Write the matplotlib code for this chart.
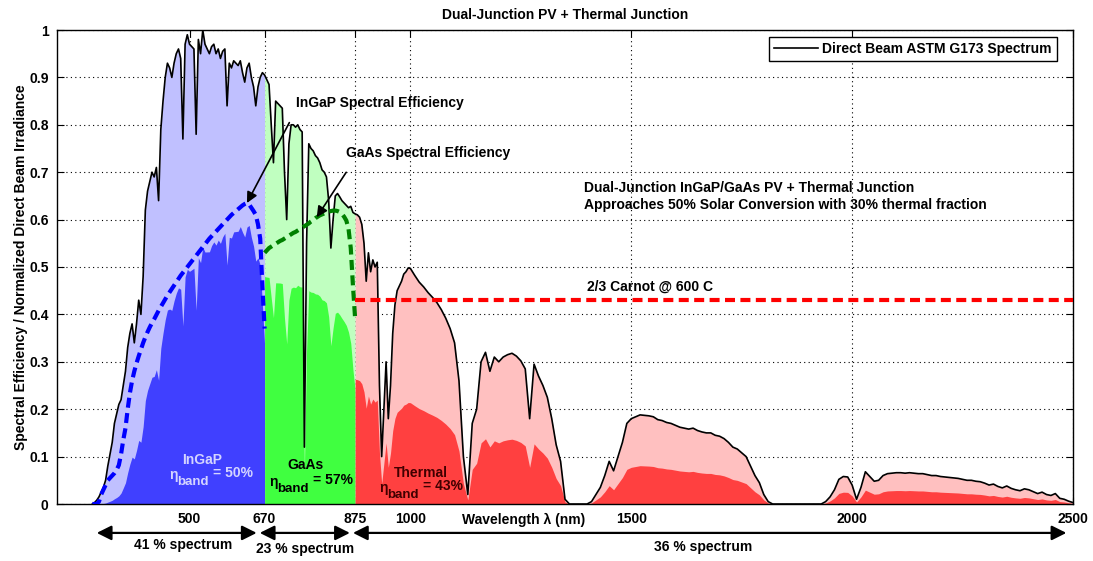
import numpy as np
import matplotlib
matplotlib.use("Agg")
import matplotlib.pyplot as plt
from matplotlib.transforms import offset_copy

plt.rcParams['font.family'] = ['Liberation Sans', 'DejaVu Sans']
plt.rcParams['font.weight'] = 'bold'

# Wavelength grid (nm): 5 nm steps to 1000, then 10 nm steps
wl_vis = np.arange(280, 1001, 5)
wl_ir = np.arange(1010, 2501, 10)

# Normalized direct beam irradiance, 280-1000 nm
spec_vis = [
    0.0, 0.003, 0.008, 0.015, 0.025, 0.035, 0.05, 0.08, 0.105, 0.13,
    0.17, 0.19, 0.21, 0.22, 0.25, 0.28, 0.33, 0.36, 0.38, 0.34,
    0.38, 0.43, 0.40, 0.48, 0.62, 0.66, 0.68, 0.70, 0.69, 0.71,
    0.64, 0.79, 0.85, 0.90, 0.93, 0.92, 0.90, 0.93, 0.95, 0.96,
    0.94, 0.77, 0.97, 0.99, 0.97, 0.965, 0.96, 0.78, 0.98, 0.95,
    1.0, 0.97, 0.96, 0.95, 0.965, 0.97, 0.95, 0.96, 0.94, 0.955,
    0.96, 0.84, 0.93, 0.92, 0.935, 0.93, 0.925, 0.935, 0.91, 0.89,
    0.92, 0.93, 0.90, 0.88, 0.84, 0.88, 0.90, 0.91, 0.905, 0.895,
    0.885, 0.80, 0.72, 0.85, 0.845, 0.84, 0.835, 0.70, 0.60, 0.76,
    0.80, 0.80, 0.795, 0.80, 0.79, 0.785, 0.12, 0.55, 0.76, 0.75,
    0.745, 0.735, 0.73, 0.72, 0.705, 0.70, 0.69, 0.64, 0.54, 0.60,
    0.65, 0.655, 0.648, 0.64, 0.635, 0.63, 0.625, 0.628, 0.615, 0.612,
    0.61, 0.605, 0.59, 0.55, 0.47, 0.53, 0.49, 0.515, 0.50, 0.51,
    0.25, 0.10, 0.20, 0.30, 0.18, 0.25, 0.36, 0.42, 0.45, 0.46,
    0.47, 0.485, 0.49, 0.498, 0.497,
]

# Normalized direct beam irradiance, 1010-2500 nm
spec_ir = [
    0.482, 0.468, 0.458, 0.446, 0.436, 0.425, 0.41, 0.392, 0.37, 0.34,
    0.26, 0.10, 0.02, 0.17, 0.20, 0.30, 0.32, 0.28, 0.31, 0.30,
    0.31, 0.315, 0.318, 0.312, 0.302, 0.285, 0.18, 0.295, 0.27, 0.25,
    0.225, 0.18, 0.125, 0.09, 0.01, 0.0, 0.0, 0.0, 0.0, 0.0,
    0.005, 0.02, 0.035, 0.06, 0.09, 0.07, 0.10, 0.13, 0.17, 0.18,
    0.184, 0.188, 0.187, 0.186, 0.184, 0.178, 0.176, 0.172, 0.17, 0.166,
    0.162, 0.16, 0.158, 0.16, 0.155, 0.152, 0.15, 0.15, 0.145, 0.143,
    0.138, 0.13, 0.12, 0.116, 0.108, 0.10, 0.08, 0.06, 0.045, 0.02,
    0.005, 0.0, 0.0, 0.0, 0.0, 0.0, 0.0, 0.0, 0.0, 0.0,
    0.0, 0.0, 0.0, 0.005, 0.015, 0.03, 0.052, 0.058, 0.057, 0.04,
    0.01, 0.035, 0.068, 0.058, 0.048, 0.05, 0.06, 0.064, 0.065, 0.066,
    0.066, 0.065, 0.066, 0.065, 0.064, 0.064, 0.062, 0.06, 0.06, 0.058,
    0.057, 0.056, 0.055, 0.054, 0.052, 0.05, 0.05, 0.048, 0.047, 0.044,
    0.04, 0.042, 0.037, 0.034, 0.038, 0.033, 0.03, 0.028, 0.032, 0.03,
    0.026, 0.022, 0.025, 0.02, 0.018, 0.022, 0.012, 0.01, 0.006, 0.003,
]

# InGaP spectral efficiency, 280-670 nm (same 5 nm grid)
eff_ingap = [
    0.0, 0.0, 0.0, 0.005, 0.02, 0.03, 0.04, 0.05, 0.055, 0.06,
    0.065, 0.072, 0.082, 0.105, 0.135, 0.16, 0.2, 0.234, 0.26, 0.28,
    0.297, 0.312, 0.326, 0.34, 0.352, 0.363, 0.373, 0.382, 0.39, 0.399,
    0.408, 0.416, 0.424, 0.432, 0.44, 0.447, 0.454, 0.461, 0.468, 0.475,
    0.482, 0.488, 0.494, 0.5, 0.506, 0.512, 0.518, 0.524, 0.53, 0.536,
    0.542, 0.548, 0.554, 0.56, 0.565, 0.57, 0.575, 0.58, 0.585, 0.59,
    0.595, 0.6, 0.605, 0.61, 0.614, 0.618, 0.622, 0.626, 0.63, 0.633,
    0.635, 0.632, 0.625, 0.618, 0.61, 0.59, 0.56, 0.46, 0.37,
]

# GaAs spectral efficiency, 670-875 nm (same 5 nm grid)
eff_gaas = [
    0.53, 0.535, 0.54, 0.543, 0.546, 0.549, 0.552, 0.555, 0.557, 0.56,
    0.563, 0.566, 0.569, 0.572, 0.574, 0.577, 0.58, 0.583, 0.586, 0.589,
    0.592, 0.596, 0.599, 0.603, 0.606, 0.609, 0.611, 0.613, 0.615, 0.617,
    0.618, 0.619, 0.619, 0.618, 0.616, 0.612, 0.606, 0.598, 0.58, 0.54,
    0.46, 0.39,
]

eff_thermal = 0.43  # 2/3 Carnot @ 600 C
band_edges = [280, 670, 875, 2500]
xticks = [500, 670, 875, 1000, 1500, 2000, 2500]

wl = np.concatenate([wl_vis, wl_ir])
spec = np.array(spec_vis + spec_ir)

m1 = (wl >= 280) & (wl <= 670)
m2 = (wl >= 670) & (wl <= 875)
m3 = wl >= 875
wl1, wl2, wl3 = wl[m1], wl[m2], wl[m3]

fig = plt.figure(figsize=(10.93, 5.61), dpi=100)
ax = fig.add_axes([57 / 1093, 1 - 504 / 561, 1016 / 1093, 474 / 561])

# light fills = spectrum, dark fills = spectrum x efficiency
ax.fill_between(wl1, 0, spec[m1], color='#c0c0ff', lw=0)
ax.fill_between(wl1, 0, spec[m1] * np.array(eff_ingap), color='#4040ff', lw=0)
ax.fill_between(wl2, 0, spec[m2], color='#c0ffc0', lw=0)
ax.fill_between(wl2, 0, spec[m2] * np.array(eff_gaas), color='#40ff40', lw=0)
ax.fill_between(wl3, 0, spec[m3], color='#ffc0c0', lw=0)
ax.fill_between(wl3, 0, spec[m3] * eff_thermal, color='#ff4040', lw=0)

ax.plot(wl, spec, color='black', lw=1.2, label='Direct Beam ASTM G173 Spectrum', zorder=4)

ax.plot(wl1, eff_ingap, color='#0000ff', lw=3, dashes=(2.4, 1.3), zorder=5)
ax.plot(wl2, eff_gaas, color='#008000', lw=3, dashes=(2.4, 1.3), zorder=5)
ax.plot([band_edges[2], band_edges[3]], [eff_thermal, eff_thermal], color='#ff0000',
        lw=3, dashes=(2.4, 1.3), zorder=5)

ax.set_xlim(200, 2500)
ax.set_ylim(0, 1)
ax.set_xticks(xticks)
ax.set_xticklabels([str(t) for t in xticks])
ax.set_yticks(np.arange(0, 1.01, 0.1))
ax.set_yticklabels(['0'] + ['%.1f' % v for v in np.arange(0.1, 0.95, 0.1)] + ['1'])
ax.tick_params(direction='in', top=True, right=True, length=5, labelsize=10, pad=6)
ax.set_axisbelow(True)
ax.grid(True, linestyle=(0, (1, 3)), color='black', lw=0.8)
for s in ax.spines.values():
    s.set_linewidth(1.0)

ax.set_title('Dual-Junction PV + Thermal Junction', fontsize=10, fontweight='bold', pad=8)
ax.set_ylabel('Spectral Efficiency / Normalized Direct Beam Irradiance', fontsize=10,
              fontweight='bold', labelpad=1)
ax.text(1257, -0.034, 'Wavelength λ (nm)', fontsize=10, ha='center', va='center', clip_on=False)

leg = ax.legend(loc='upper right', bbox_to_anchor=(0.984, 0.985), fancybox=False,
                framealpha=1, edgecolor='black', fontsize=10, handlelength=3.2,
                borderpad=0.35, handletextpad=0.3, borderaxespad=0)
leg.get_frame().set_linewidth(1.0)

# annotations
ax.annotate('InGaP Spectral Efficiency', xy=(630, 0.635), xytext=(741, 0.846),
            fontsize=10, ha='left', va='center',
            arrowprops=dict(arrowstyle='-|>', color='black', lw=1.2,
                            mutation_scale=16, shrinkA=8, shrinkB=0,
                            relpos=(0, 0)), zorder=6)
ax.annotate('GaAs Spectral Efficiency', xy=(788, 0.605), xytext=(854, 0.74),
            fontsize=10, ha='left', va='center',
            arrowprops=dict(arrowstyle='-|>', color='black', lw=1.2,
                            mutation_scale=16, shrinkA=8, shrinkB=0,
                            relpos=(0.05, 0)), zorder=6)
ax.text(1392, 0.667, 'Dual-Junction InGaP/GaAs PV + Thermal Junction', fontsize=10,
        ha='left', va='center')
ax.text(1392, 0.631, 'Approaches 50% Solar Conversion with 30% thermal fraction', fontsize=10,
        ha='left', va='center')
ax.text(1400, 0.458, '2/3 Carnot @ 600 C', fontsize=10, ha='left', va='center')


def band_label(x, y, name, name_dx, name_dy, pct, color):
    # eta anchored at (x, y); "band" subscript and name placed by pixel offsets
    def tr(dx, dy):
        return offset_copy(ax.transData, fig=fig, x=dx, y=dy, units='dots')
    kw = dict(color=color, va='center', zorder=6)
    ax.text(x, y, 'η', ha='left', fontsize=10, **kw)
    ax.text(x, y, 'band', ha='left', fontsize=9.5, transform=tr(8, -7), **kw)
    ax.text(x, y, '= %d%%' % pct, ha='left', fontsize=10, transform=tr(44, 2), **kw)
    ax.text(x, y, name, ha='center', fontsize=10, transform=tr(name_dx, name_dy), **kw)


band_label(454, 0.061, 'InGaP', 33, 15, 50, '#d4d4ff')
band_label(680, 0.046, 'GaAs', 36, 17, 57, 'black')
band_label(929, 0.034, 'Thermal', 42, 15, 43, '#400000')

# spectrum fraction arrows below the axis
arrow_y = -0.061
for x0, x1, lab, lx, ly in [(290, 652, '41 % spectrum', 485, -0.087),
                            (659, 863, '23 % spectrum', 761, -0.095),
                            (870, 2485, '36 % spectrum', 1662, -0.091)]:
    ax.annotate('', xy=(x1, arrow_y), xytext=(x0, arrow_y), xycoords='data',
                arrowprops=dict(arrowstyle='<|-|>', color='black', lw=1.6,
                                mutation_scale=22, shrinkA=0, shrinkB=0),
                annotation_clip=False)
    ax.text(lx, ly, lab, fontsize=10, ha='center', va='center', clip_on=False)

fig.savefig('out.png', dpi=100)
